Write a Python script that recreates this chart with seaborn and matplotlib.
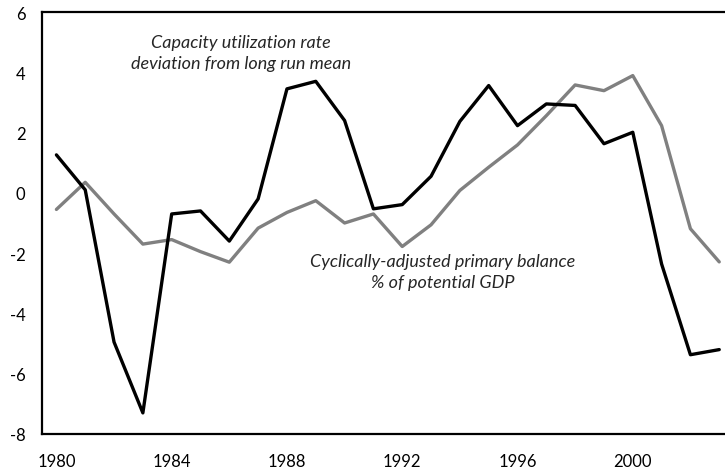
import matplotlib
matplotlib.use("Agg")
import matplotlib.pyplot as plt
import seaborn as sns
import pandas as pd
import numpy as np

years = [1980.5 + i for i in range(24)]
capacity = [1.26, 0.1, -4.95, -7.3, -0.7, -0.6, -1.6, -0.2, 3.45, 3.7, 2.4, -0.53,
            -0.39, 0.55, 2.37, 3.56, 2.23, 2.95, 2.9, 1.63, 2.01, -2.36, -5.37, -5.2]
balance = [-0.55, 0.35, -0.7, -1.7, -1.55, -1.95, -2.3, -1.17, -0.65, -0.26, -1.0, -0.7,
           -1.78, -1.06, 0.08, 0.85, 1.59, 2.56, 3.58, 3.39, 3.89, 2.23, -1.19, -2.29]
xticks = [1980, 1984, 1988, 1992, 1996, 2000]
xticklabels = ["1980", "1984", "1988", "1992", "1996", "2000"]
yticks = [-8, -6, -4, -2, 0, 2, 4, 6]

sns.set_theme(style="white")
plt.rcParams['font.family'] = ['Lato', 'DejaVu Sans']
plt.rcParams['axes.unicode_minus'] = False

df = pd.DataFrame({"year": years * 2,
                   "value": capacity + balance,
                   "series": ["cap"] * len(years) + ["bal"] * len(years)})

fig = plt.figure(figsize=(7.25, 4.77), dpi=100)
ax = fig.add_axes([42/725, 1 - 435/477, 1 - 42/725, (435 - 13)/477])
sns.lineplot(data=df, x="year", y="value", hue="series",
             palette={"cap": "#000000", "bal": "#808080"},
             hue_order=["bal", "cap"], linewidth=2.4, legend=False, ax=ax)

ax.set_xlim(1980, 2003.7)
ax.set_ylim(-8, 6)
# tick marks at year boundaries, labels centred on the year
ax.set_xticks(xticks)
ax.set_xticklabels([])
ax.set_xticks([x + 0.5 for x in xticks], minor=True)
ax.set_xticklabels(xticklabels, minor=True)
ax.set_yticks(yticks)
ax.set_xlabel("")
ax.set_ylabel("")
ax.tick_params(axis="x", which="major", direction="in", length=5, width=1.3, colors="black")
ax.tick_params(axis="x", which="minor", length=0, labelsize=12, pad=14, labelcolor="black")
ax.tick_params(axis="y", direction="in", length=4, width=1.3, colors="black",
               labelsize=12, pad=12)
for s in ["left", "bottom", "top"]:
    ax.spines[s].set_visible(True)
    ax.spines[s].set_color("black")
    ax.spines[s].set_linewidth(1.6)
ax.spines["right"].set_visible(False)

ax.text(1986.9, 4.65, "Capacity utilization rate\ndeviation from long run mean",
        ha="center", va="center", fontsize=13, style="italic", linespacing=1.4)
ax.text(1993.9, -2.6, "Cyclically-adjusted primary balance\n% of potential GDP",
        ha="center", va="center", fontsize=13, style="italic", linespacing=1.4)

fig.savefig("out.png", dpi=100)
